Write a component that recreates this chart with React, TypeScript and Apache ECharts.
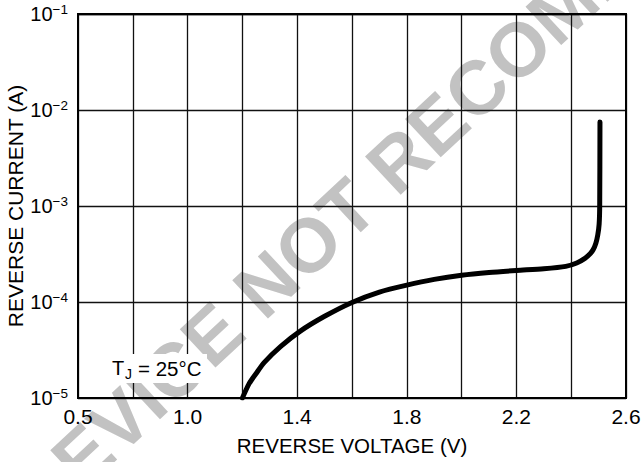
import React, { useEffect, useRef } from 'react';
import * as echarts from 'echarts';

// Reverse voltage (V) and reverse current (A)
const voltage = [1.2, 1.225, 1.25, 1.28, 1.34, 1.41, 1.5, 1.6, 1.7, 1.8, 1.9, 2.0, 2.1, 2.2, 2.3, 2.38, 2.42, 2.45, 2.47, 2.48, 2.49, 2.497, 2.502, 2.504, 2.505];
const current = [1e-5, 1.42e-5, 1.8e-5, 2.35e-5, 3.45e-5, 4.95e-5, 7.1e-5, 9.9e-5, 1.27e-4, 1.5e-4, 1.72e-4, 1.9e-4, 2.03e-4, 2.13e-4, 2.22e-4, 2.35e-4, 2.55e-4, 2.85e-4, 3.2e-4, 3.5e-4, 4.1e-4, 5e-4, 6.5e-4, 1e-3, 7.5e-3];

// Axis ticks: grid every 0.2 V; labels at every second grid line (first label printed as in the original)
const xMin = 0.6;
const xMax = 2.6;
const xStep = 0.2;
const xTickLabels = ['0.5', '1.0', '1.4', '1.8', '2.2', '2.6'];
const yExponents = [-5, -4, -3, -2, -1];

const xAxisTitle = 'REVERSE VOLTAGE (V)';
const yAxisTitle = 'REVERSE CURRENT (A)';
const annotationMain = 'T';
const annotationSub = 'J';
const annotationRest = '= 25°C';
const watermarkText = 'DEVICE NOT RECOMMENDED FOR NEW DESIGN';

const FONT = '"Liberation Sans", Arial, Helvetica, sans-serif';

export default function App() {
  const ref = useRef<HTMLDivElement>(null);

  useEffect(() => {
    if (!ref.current) return;
    const chart = echarts.init(ref.current, null, { renderer: 'svg' });
    const data = voltage.map((v, i) => [v, current[i]]);

    chart.setOption({
      animation: false,
      backgroundColor: '#ffffff',
      textStyle: { fontFamily: FONT },
      grid: {
        left: 78,
        right: 18,
        top: 14,
        bottom: 64,
        outerBoundsMode: 'none',
        containLabel: false,
        show: true,
        borderColor: '#000',
        borderWidth: 2,
        backgroundColor: 'transparent',
        z: 1,
      },
      xAxis: {
        type: 'value',
        min: xMin,
        max: xMax,
        interval: xStep,
        name: xAxisTitle,
        nameLocation: 'middle',
        nameGap: 37,
        nameMoveOverlap: false,
        nameTextStyle: { fontSize: 20.5, color: '#000', fontFamily: FONT },
        axisLine: { show: true, lineStyle: { color: '#000', width: 2 } },
        axisTick: { show: false },
        splitLine: { show: true, lineStyle: { color: '#111', width: 1.3 } },
        axisLabel: {
          fontSize: 21,
          color: '#000',
          margin: 8,
          fontFamily: FONT,
          formatter: (value: number) => {
            const i = Math.round((value - xMin) / xStep);
            if (i % 2 !== 0) return '';
            return xTickLabels[i / 2] ?? '';
          },
        },
      },
      yAxis: {
        type: 'log',
        logBase: 10,
        min: Math.pow(10, yExponents[0]),
        max: Math.pow(10, yExponents[yExponents.length - 1]),
        name: yAxisTitle,
        nameLocation: 'middle',
        nameGap: 52,
        nameMoveOverlap: false,
        nameTextStyle: { fontSize: 21, color: '#000', fontFamily: FONT },
        axisLine: { show: true, lineStyle: { color: '#000', width: 2 } },
        axisTick: { show: false },
        splitLine: { show: true, lineStyle: { color: '#111', width: 1.3 } },
        minorTick: { show: false },
        axisLabel: {
          margin: 10,
          color: '#000',
          fontFamily: FONT,
          formatter: (value: number) => {
            const e = Math.round(Math.log10(value));
            if (!yExponents.includes(e)) return '';
            return '{b|10}{s|\u2212' + Math.abs(e) + '}';
          },
          rich: {
            b: { fontSize: 20, lineHeight: 24, color: '#000', fontFamily: FONT },
            s: { fontSize: 13.5, lineHeight: 13, verticalAlign: 'top', color: '#000', fontFamily: FONT },
          },
        },
      },
      series: [
        {
          type: 'line',
          data,
          showSymbol: false,
          smooth: 0.25,
          z: 5,
          lineStyle: { color: '#000', width: 5, cap: 'round', join: 'round' },
        },
      ],
      graphic: [
        {
          type: 'text',
          x: 24,
          y: 510,
          rotation: (43 * Math.PI) / 180,
          z: -10,
          silent: true,
          style: {
            text: watermarkText,
            font: 'bold 76px ' + FONT,
            fill: '#c2c2c2',
            align: 'left',
            verticalAlign: 'middle',
          },
        },
        {
          type: 'rect',
          z: 10,
          shape: { x: 108, y: 354, width: 99, height: 29 },
          style: { fill: '#ffffff' },
        },
        {
          type: 'text',
          x: 112,
          y: 368,
          z: 11,
          style: { text: annotationMain, font: '20px ' + FONT, fill: '#000', align: 'left', verticalAlign: 'middle' },
        },
        {
          type: 'text',
          x: 125,
          y: 374,
          z: 11,
          style: { text: annotationSub, font: '14px ' + FONT, fill: '#000', align: 'left', verticalAlign: 'middle' },
        },
        {
          type: 'text',
          x: 138,
          y: 368,
          z: 11,
          style: { text: annotationRest, font: '20.5px ' + FONT, fill: '#000', align: 'left', verticalAlign: 'middle' },
        },
      ],
    });

    return () => chart.dispose();
  }, []);

  return (
    <div
      ref={ref}
      style={{ position: 'fixed', left: 0, top: 0, width: 644, height: 462, background: '#fff' }}
    />
  );
}
